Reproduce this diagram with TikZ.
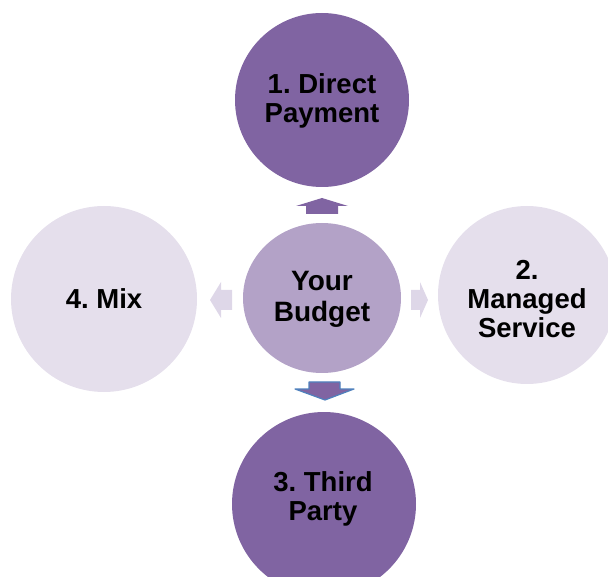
\documentclass[tikz,border=0pt]{standalone}
\usepackage{fontspec}
\setmainfont{Liberation Sans}
\frenchspacing
\definecolor{dpurple}{HTML}{8064A2}
\definecolor{mpurple}{HTML}{B3A2C7}
\definecolor{lpurple}{HTML}{E5DFEC}
\definecolor{larrow}{HTML}{DED7E8}
\definecolor{bblue}{HTML}{4F81BD}
\begin{document}
\begin{tikzpicture}[x=1pt,y=-1pt,
  bubble/.style={circle,inner sep=0pt,draw=none,text=black,align=center,
    font=\fontsize{27.5}{29}\selectfont\bfseries},
  darkb/.style={bubble,fill=dpurple},
  lightb/.style={bubble,fill=lpurple},
  midb/.style={bubble,fill=mpurple}]
\useasboundingbox (0,0) rectangle (608,577);
\begin{scope}
\clip (0,0) rectangle (608,577);
\node[darkb,minimum size=174pt] (top) at (322,100) {};
\node[lightb,minimum size=178pt] (right) at (527,295) {};
\node[darkb,minimum size=184pt] (bottom) at (324,504) {};
\node[lightb,minimum size=186pt] (left) at (104,299) {};
\fill[mpurple] (322,298) ellipse [x radius=79, y radius=75];
\end{scope}
\node[bubble,font=\fontsize{28}{31}\selectfont\bfseries] (center) at (322,299) {Your\\Budget};
\node[bubble] (toptext) at (322,101) {1. Direct\\Payment};
\node[bubble] (righttext) at (527,299) {2.\\Managed\\Service};
\node[bubble] (bottomtext) at (323,499) {3. Third\\Party};
\node[bubble] (lefttext) at (104,299) {4. Mix};
% arrows
\fill[dpurple] (306,214) -- (306,206) -- (296,206) -- (322,198) -- (348,206) -- (338,206) -- (338,214) -- cycle;
\filldraw[fill=dpurple,draw=bblue,line width=1.2pt,line join=round] (309,382) -- (340,382) -- (340,389) -- (354,389) -- (325,400) -- (295,389) -- (309,389) -- cycle;
\fill[larrow] (232,290) -- (221,290) -- (221,282) -- (210,300) -- (221,318) -- (221,310) -- (232,310) -- cycle;
\fill[larrow] (411,290) -- (420,290) -- (420,282) -- (428,300) -- (420,318) -- (420,310) -- (411,310) -- cycle;
\end{tikzpicture}
\end{document}
